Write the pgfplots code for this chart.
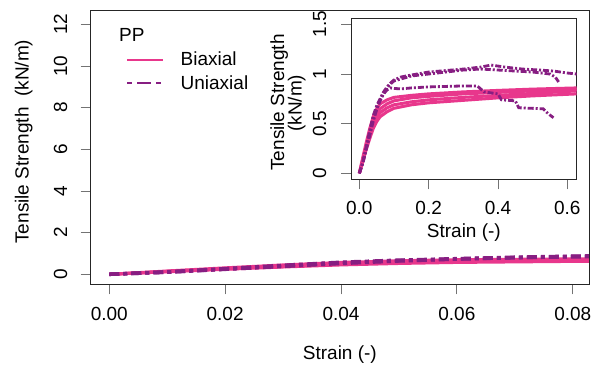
\documentclass[border=0pt]{standalone}
\usepackage{pgfplots}
\pgfplotsset{compat=1.18}
\usepackage{pgfplotstable}
\usepackage{fontspec}
\setmainfont{Liberation Sans}
\definecolor{bpink}{RGB}{232,55,140}
\definecolor{upurp}{RGB}{135,30,130}
\newcommand\fs{\fontsize{19}{22}\selectfont}

\pgfplotstableread{
x y
0 0
0.01 0.16
0.02 0.31
0.03 0.45
0.04 0.57
0.05 0.65
0.06 0.70
0.08 0.74
0.10 0.765
0.15 0.785
0.20 0.80
0.30 0.82
0.40 0.835
0.50 0.848
0.627 0.86
}\tabBa
\pgfplotstableread{
x y
0 0
0.01 0.14
0.02 0.28
0.03 0.41
0.04 0.52
0.05 0.60
0.06 0.65
0.08 0.70
0.10 0.73
0.15 0.76
0.20 0.775
0.30 0.80
0.40 0.815
0.50 0.83
0.627 0.845
}\tabBb
\pgfplotstableread{
x y
0 0
0.01 0.13
0.02 0.26
0.03 0.38
0.04 0.48
0.05 0.56
0.06 0.61
0.08 0.66
0.10 0.69
0.15 0.72
0.20 0.74
0.30 0.765
0.40 0.785
0.50 0.805
0.627 0.83
}\tabBc
\pgfplotstableread{
x y
0 0
0.01 0.12
0.02 0.24
0.03 0.35
0.04 0.45
0.05 0.52
0.06 0.57
0.08 0.62
0.10 0.655
0.15 0.69
0.20 0.71
0.30 0.735
0.40 0.76
0.50 0.78
0.627 0.80
}\tabBd
\pgfplotstableread{
x y
0 0
0.01 0.12
0.02 0.27
0.03 0.43
0.04 0.58
0.05 0.68
0.06 0.75
0.07 0.82
0.08 0.87
0.09 0.91
0.10 0.94
0.12 0.97
0.15 0.99
0.20 1.02
0.25 1.035
0.30 1.05
0.35 1.07
0.38 1.09
0.42 1.07
0.47 1.05
0.52 1.04
0.56 1.03
0.60 1.01
0.627 1.00
}\tabUa
\pgfplotstableread{
x y
0 0
0.01 0.10
0.02 0.25
0.03 0.40
0.04 0.55
0.05 0.66
0.06 0.74
0.07 0.80
0.08 0.86
0.09 0.90
0.10 0.93
0.15 0.98
0.20 1.00
0.25 1.02
0.30 1.04
0.35 1.05
0.40 1.04
0.45 1.03
0.50 1.02
0.55 1.00
0.565 0.97
0.575 0.92
}\tabUb
\pgfplotstableread{
x y
0 0
0.01 0.10
0.02 0.24
0.03 0.38
0.04 0.52
0.05 0.64
0.06 0.73
0.07 0.80
0.08 0.84
0.09 0.86
0.10 0.855
0.12 0.85
0.15 0.86
0.20 0.87
0.25 0.875
0.30 0.88
0.34 0.88
0.36 0.82
0.40 0.80
0.41 0.74
0.45 0.73
0.46 0.66
0.53 0.65
0.545 0.60
0.56 0.56
}\tabUc

\begin{document}
\begin{tikzpicture}
\pgfplotsset{
  rstyle/.style={
    scale only axis, anchor=south west,
    axis line style={black!85, line width=0.9pt},
    tick align=outside, xtick pos=bottom, ytick pos=left,
    major tick length=10pt, tick style={black!55, line width=0.8pt},
    tick label style={font=\fs},
    scaled x ticks=false, scaled y ticks=false,
    xticklabel style={anchor=base, inner sep=0pt},
    yticklabel style={rotate=90, anchor=base, inner sep=0pt},
  },
  bstyle/.style={bpink, line width=#1},
  ustyle/.style={upurp, line width=#1},
}
\begin{axis}[rstyle,
  at={(90.7pt,79.7pt)}, width=498.3pt, height=274.3pt,
  xmin=-0.0032, xmax=0.0828, ymin=-0.48, ymax=12.69,
  xtick={0,0.02,0.04,0.06,0.08}, xticklabels={0.00,0.02,0.04,0.06,0.08},
  ytick={0,2,4,6,8,10,12}, yticklabels={0,2,4,6,8,10,12},
  xticklabel shift=26.4pt, yticklabel shift=13.7pt,
  legend cell align=left,
  legend image code/.code={\draw[#1] (0pt,0pt) -- (36pt,0pt);},
  legend style={at={(axis description cs:0.0708,0.847)}, anchor=north west,
    draw=none, fill=none, font=\fs, inner sep=0pt, row sep=8pt,
    nodes={inner sep=0pt}, column sep=16pt},
]
\addplot[bstyle=3pt, forget plot] table {\tabBa};
\addplot[bstyle=3pt, forget plot] table {\tabBb};
\addplot[bstyle=3pt, forget plot] table {\tabBc};
\addplot[bstyle=3pt, forget plot] table {\tabBd};
\addplot[ustyle=3.5pt, dash pattern=on 10pt off 4pt on 4pt off 4pt, forget plot] table {\tabUa};
\addplot[ustyle=3.5pt, dash pattern=on 10pt off 4pt on 4pt off 4pt, forget plot] table {\tabUb};
\addplot[ustyle=3.5pt, dash pattern=on 10pt off 4pt on 4pt off 4pt, forget plot] table {\tabUc};
\addlegendimage{bpink, line width=2.5pt}
\addlegendentry{Biaxial}
\addlegendimage{upurp, line width=2.5pt, dash pattern=on 5pt off 5pt on 14pt off 5pt}
\addlegendentry{Uniaxial}
\end{axis}

\begin{axis}[rstyle,
  at={(351pt,184.7pt)}, width=225.7pt, height=160.9pt,
  axis background/.style={fill=white},
  xmin=-0.024, xmax=0.627, ymin=-0.06, ymax=1.56,
  xtick={0,0.2,0.4,0.6}, xticklabels={0.0,0.2,0.4,0.6},
  ytick={0,0.5,1,1.5}, yticklabels={0,0.5,1,1.5},
  xticklabel shift=25.7pt, yticklabel shift=15pt,
]
\addplot[bstyle=3pt] table {\tabBa};
\addplot[bstyle=3pt] table {\tabBb};
\addplot[bstyle=3pt] table {\tabBc};
\addplot[bstyle=3pt] table {\tabBd};
\addplot[ustyle=2.8pt, dash pattern=on 6pt off 2pt on 2pt off 2pt] table {\tabUa};
\addplot[ustyle=2.8pt, dash pattern=on 6pt off 2pt on 2pt off 2pt] table {\tabUb};
\addplot[ustyle=2.8pt, dash pattern=on 6pt off 2pt on 2pt off 2pt] table {\tabUc};
\end{axis}

\node[anchor=base west, font=\fs, inner sep=0pt] at (119pt,322.3pt) {PP};
\node[rotate=90, anchor=base, font=\fs, inner sep=0pt] at (28.6pt,222.3pt) {Tensile Strength\ \ (kN/m)};
\node[anchor=base, font=\fs, inner sep=0pt] at (339.85pt,4.7pt) {Strain (-)};
\node[rotate=90, anchor=base, font=\fs, inner sep=0pt] at (284pt,261.5pt) {Tensile Strength};
\node[rotate=90, anchor=base, font=\fs, inner sep=0pt] at (301.5pt,260.7pt) {(kN/m)};
\node[anchor=base, font=\fs, inner sep=0pt] at (463.85pt,126pt) {Strain (-)};

\pgfresetboundingbox
\useasboundingbox (0pt,0pt) rectangle (591pt,364pt);
\end{tikzpicture}
\end{document}
